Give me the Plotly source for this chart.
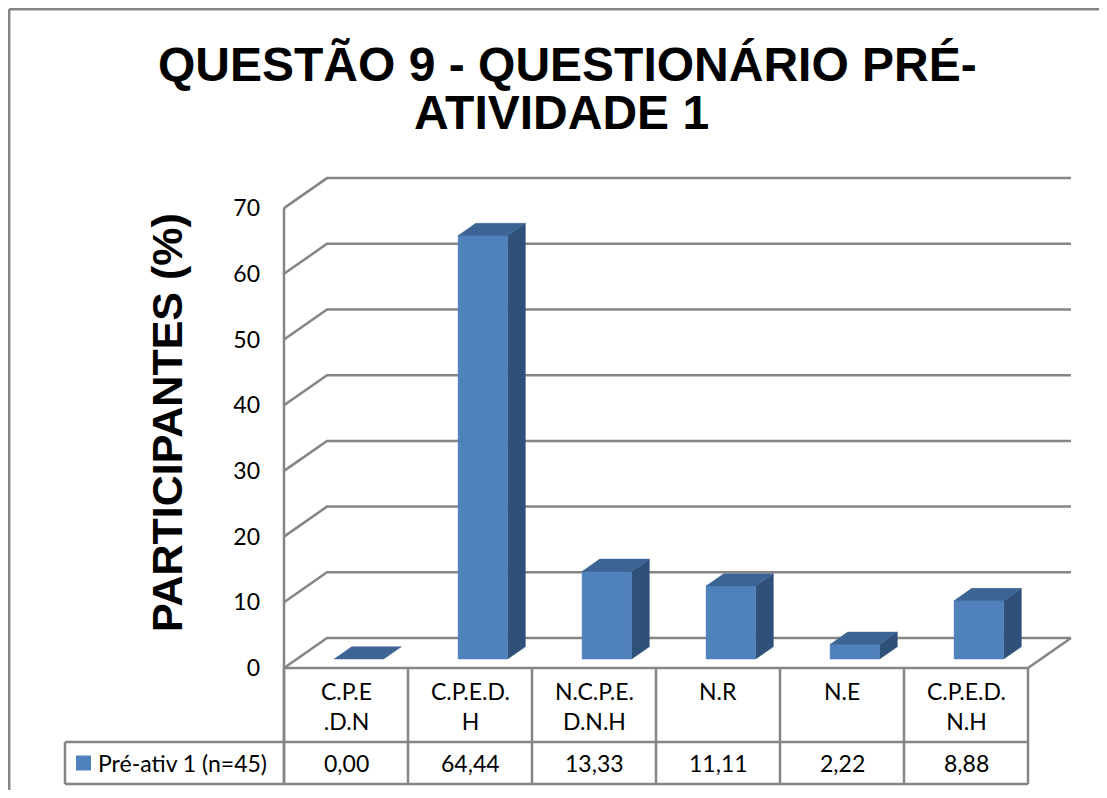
import plotly.graph_objects as go

# dados do gráfico
categorias = ["C.P.E<br>.D.N", "C.P.E.D.<br>H", "N.C.P.E.<br>D.N.H", "N.R", "N.E", "C.P.E.D.<br>N.H"]
valores = [0.00, 64.44, 13.33, 11.11, 2.22, 8.88]
rotulos = ["0,00", "64,44", "13,33", "11,11", "2,22", "8,88"]
serie = "Pré-ativ 1 (n=45)"
ticks_y = [0, 10, 20, 30, 40, 50, 60, 70]
titulo = ["QUESTÃO 9 - QUESTIONÁRIO PRÉ-", "ATIVIDADE 1"]
titulo_y = "PARTICIPANTES (%)"

# geometria (pixels da tela -> unidades dos eixos)
OFF = 8                 # margem da página
W, H = 1107 - 2 * OFF, 798 - 2 * OFF   # figura cabe na janela sem barras de rolagem
X0, COL = 346, 124      # centro da 1a categoria, largura de coluna
Y0, UN = 668, 6.57      # linha do zero, pixels por unidade
DX, DY = 43 / COL, 30 / UN   # profundidade oblíqua (parede de fundo)
BW = 0.40                    # largura da barra
D0, D1 = 0.30, 0.71          # profundidade da barra

def px_x(p):
    return (p - X0) / COL

def px_y(p):
    return (Y0 - p) / UN

def pap_x(p):
    return (p - OFF) / W

def pap_y(p):
    return 1 - (p - OFF) / H

cinza = "#858585"
frente, topo, lado = "#4F81BD", "#3C6494", "#2F5079"

fig = go.Figure()

n = len(valores)
xl, xr = -0.5, n - 0.5

# grade: parede esquerda (oblíqua) + parede de fundo
gx, gy = [], []
for t in ticks_y:
    gx += [xl, xl + DX, xr + DX, None]
    gy += [t, t + DY, t + DY, None]
# borda direita do piso
gx += [xr, xr + DX, None]
gy += [0, DY, None]
# aresta frontal esquerda
gx += [xl, xl, None]
gy += [ticks_y[-1], px_y(784), None]
fig.add_trace(go.Scatter(x=gx, y=gy, mode="lines", line=dict(color=cinza, width=2.5),
                         hoverinfo="skip", showlegend=False))

# barras 3D
fx, fy, tx, ty, sx, sy = [], [], [], [], [], []
dd = D1 - D0
for i, v in enumerate(valores):
    a = i - BW / 2 + D0 * DX
    b = i + BW / 2 + D0 * DX
    base = D0 * DY
    top = v + D0 * DY
    if v > 0:
        fx += [a, b, b, a, a, None]
        fy += [base, base, top, top, base, None]
        sx += [b, b + dd * DX, b + dd * DX, b, b, None]
        sy += [base, base + dd * DY, top + dd * DY, top, base, None]
    tx += [a, b, b + dd * DX, a + dd * DX, a, None]
    ty += [top, top, top + dd * DY, top + dd * DY, top, None]

for xs, ys, c in [(sx, sy, lado), (fx, fy, frente), (tx, ty, topo)]:
    fig.add_trace(go.Scatter(x=xs, y=ys, mode="lines", fill="toself", fillcolor=c,
                             line=dict(color=c, width=0.5), hoverinfo="skip", showlegend=False))

# tabela de dados
lx = px_x(65)
r1 = px_y(742)
r2 = px_y(784)
tbx, tby = [], []
tbx += [xl, xr, None, lx, xr, None, lx, xr, None, lx, lx, None]
tby += [0, 0, None, r1, r1, None, r2, r2, None, r1, r2, None]
for k in range(n + 1):
    tbx += [k - 0.5, k - 0.5, None]
    tby += [0, r2, None]
fig.add_trace(go.Scatter(x=tbx, y=tby, mode="lines", line=dict(color=cinza, width=2.5),
                         hoverinfo="skip", showlegend=False))

# legenda dentro da tabela
fig.add_trace(go.Scatter(x=[px_x(83.5)], y=[(r1 + r2) / 2], mode="markers",
                         marker=dict(symbol="square", size=15, color=frente, line=dict(width=0)),
                         hoverinfo="skip", showlegend=False))

fonte = dict(family="Lato, Calibri, sans-serif", size=23, color="black")
anns = []
for i, c in enumerate(categorias):
    anns.append(dict(x=i, y=px_y(675), text=c, showarrow=False, xanchor="center",
                     yanchor="top", font=fonte))
for i, r in enumerate(rotulos):
    anns.append(dict(x=i, y=(r1 + r2) / 2, text=r, showarrow=False, xanchor="center",
                     yanchor="middle", font=fonte))
anns.append(dict(x=px_x(96), y=(r1 + r2) / 2, text=serie, showarrow=False, xanchor="left",
                 yanchor="middle", font=fonte))

ft = dict(family="Liberation Sans, Arial, sans-serif", size=48, color="black")
anns.append(dict(xref="paper", yref="paper", x=pap_x(567), y=pap_y(64), text="<b>%s</b>" % titulo[0],
                 showarrow=False, xanchor="center", yanchor="middle", font=ft))
anns.append(dict(xref="paper", yref="paper", x=pap_x(561), y=pap_y(112), text="<b>%s</b>" % titulo[1],
                 showarrow=False, xanchor="center", yanchor="middle", font=ft))
anns.append(dict(xref="paper", yref="paper", x=pap_x(167), y=pap_y(423), text="<b>%s</b>" % titulo_y,
                 showarrow=False, textangle=-90, xanchor="center", yanchor="middle",
                 font=dict(family="Liberation Sans, Arial, sans-serif", size=43, color="black")))

# moldura externa (só as bordas esquerda e superior aparecem)
borda = dict(color=cinza, width=2.5)

fig.update_layout(
    width=W, height=H,
    margin=dict(l=0, r=0, t=0, b=0),
    paper_bgcolor="white", plot_bgcolor="white",
    showlegend=False,
    annotations=anns,
    xaxis=dict(range=[px_x(OFF), px_x(OFF + W)], visible=False, fixedrange=True),
    yaxis=dict(range=[px_y(OFF + H), px_y(OFF)], anchor="free", position=pap_x(284),
               tickvals=ticks_y, ticktext=[str(t) for t in ticks_y],
               showgrid=False, zeroline=False, showline=False, ticks="",
               ticklabelstandoff=24, tickfont=fonte, fixedrange=True),
    shapes=[
        dict(type="line", xref="paper", yref="paper", x0=pap_x(9.2), x1=1, y0=pap_y(9.2), y1=pap_y(9.2),
             line=borda),
        dict(type="line", xref="paper", yref="paper", x0=pap_x(9.2), x1=pap_x(9.2), y0=0, y1=pap_y(9.2),
             line=borda),
    ],
)

fig.write_html("out.html")
